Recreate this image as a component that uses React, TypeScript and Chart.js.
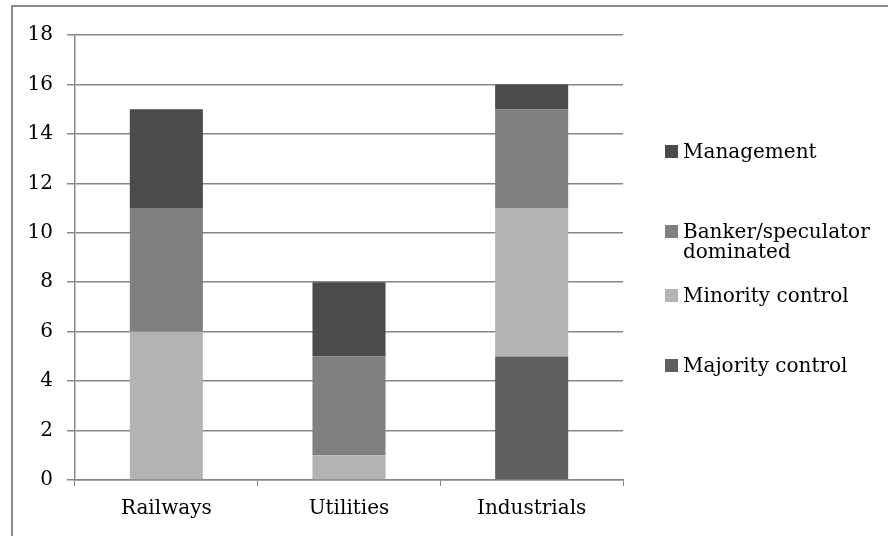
import React, { useEffect, useRef } from "react";
import { Chart, registerables } from "chart.js";

Chart.register(...registerables);

const categories = ["Railways", "Utilities", "Industrials"];
const majorityControl = [0, 0, 5];
const minorityControl = [6, 1, 6];
const bankerDominated = [5, 4, 4];
const management = [4, 3, 1];
const yTicks = [0, 2, 4, 6, 8, 10, 12, 14, 16, 18];

const COLORS = {
  majority: "#5f5f5f",
  minority: "#b3b3b3",
  banker: "#808080",
  management: "#4b4b4b",
};

const FONT = "'DejaVu Serif', serif";
const FONT_SIZE = 20;
const GRID = "#878787";

const legendItems = [
  { label: ["Management"], color: COLORS.management, top: 141 },
  { label: ["Banker/speculator", "dominated"], color: COLORS.banker, top: 221 },
  { label: ["Minority control"], color: COLORS.minority, top: 285 },
  { label: ["Majority control"], color: COLORS.majority, top: 355 },
];

export default function App() {
  const ref = useRef<HTMLCanvasElement>(null);

  useEffect(() => {
    document.body.style.margin = "0";
    const ctx = ref.current!;
    const chart = new Chart(ctx, {
      type: "bar",
      data: {
        labels: categories,
        datasets: [
          { label: "Majority control", data: majorityControl, backgroundColor: COLORS.majority },
          { label: "Minority control", data: minorityControl, backgroundColor: COLORS.minority },
          { label: "Banker/speculator dominated", data: bankerDominated, backgroundColor: COLORS.banker },
          { label: "Management", data: management, backgroundColor: COLORS.management },
        ],
      },
      options: {
        animation: false,
        responsive: false,
        maintainAspectRatio: false,
        devicePixelRatio: 1,
        layout: { padding: { left: 0, right: 265, top: 35, bottom: 0 } },
        plugins: { legend: { display: false }, tooltip: { enabled: false } },
        datasets: { bar: { barPercentage: 0.4, categoryPercentage: 1 } },
        scales: {
          x: {
            stacked: true,
            afterFit: (s: any) => {
              s.height = 56;
            },
            grid: {
              offset: true,
              drawOnChartArea: false,
              drawTicks: true,
              tickLength: 6,
              color: GRID,
            },
            border: { display: true, color: GRID, width: 1.5 },
            ticks: { color: "#000", font: { family: FONT, size: FONT_SIZE }, padding: 11 },
          },
          y: {
            stacked: true,
            min: 0,
            max: 18,
            afterFit: (s: any) => {
              s.width = 75;
            },
            afterBuildTicks: (s: any) => {
              s.ticks = yTicks.map((v) => ({ value: v }));
            },
            grid: { color: GRID, lineWidth: 1.5, tickLength: 8 },
            border: { display: true, color: GRID, width: 1.5 },
            ticks: { color: "#000", font: { family: FONT, size: FONT_SIZE }, padding: 14 },
          },
        },
      },
    });
    return () => chart.destroy();
  }, []);

  return (
    <div style={{ position: "relative", width: 888, height: 536, overflow: "hidden", background: "#fff" }}>
      <div
        style={{
          position: "absolute",
          left: 11,
          top: 5,
          width: 900,
          height: 600,
          borderLeft: "2px solid #8a8a8a",
          borderTop: "2px solid #8a8a8a",
        }}
      />
      <canvas ref={ref} width={888} height={536} style={{ position: "absolute", left: 0, top: 0 }} />
      {legendItems.map((it, i) => (
        <div
          key={i}
          style={{
            position: "absolute",
            left: 665,
            top: it.top,
            fontFamily: FONT,
            fontSize: FONT_SIZE,
            color: "#000",
            lineHeight: "20px",
            whiteSpace: "nowrap",
          }}
        >
          <span
            style={{
              position: "absolute",
              left: 0,
              top: 4,
              width: 13,
              height: 13,
              background: it.color,
            }}
          />
          <div style={{ marginLeft: 18 }}>
            {it.label.map((l, j) => (
              <div key={j}>{l}</div>
            ))}
          </div>
        </div>
      ))}
    </div>
  );
}
